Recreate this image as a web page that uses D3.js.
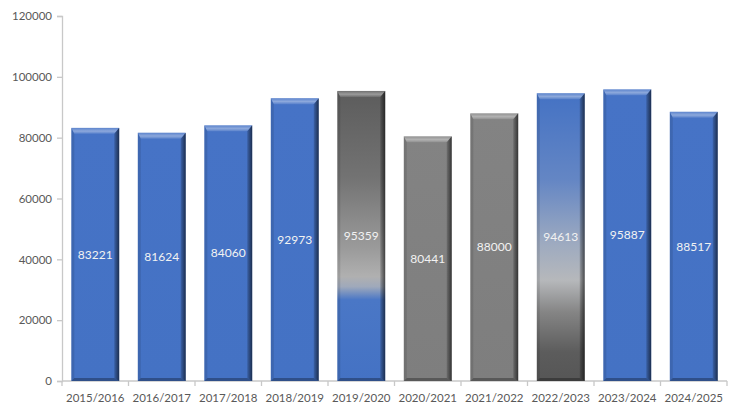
<!DOCTYPE html>
<html>
<head>
<meta charset="utf-8">
<script src="https://cdn.jsdelivr.net/npm/d3@7"></script>
<style>
  body { margin: 0; background: #fff; }
  svg { display: block; }
  text { font-family: Lato, "Liberation Sans", sans-serif; }
</style>
</head>
<body>
<svg id="chart" width="742" height="416"></svg>
<script>
// data
const seasons = ["2015/2016", "2016/2017", "2017/2018", "2018/2019", "2019/2020",
                 "2020/2021", "2021/2022", "2022/2023", "2023/2024", "2024/2025"];
const students = [83221, 81624, 84060, 92973, 95359, 80441, 88000, 94613, 95887, 88517];
const yTicks = [0, 20000, 40000, 60000, 80000, 100000, 120000];

// which fill each bar uses (style, kept apart from the values)
const fillKind = ["blue", "blue", "blue", "blue", "grayToBlue",
                  "gray", "gray", "blueToGray", "blue", "blue"];

const width = 742, height = 416;
const margin = { top: 16, right: 15, bottom: 35, left: 62 };

const svg = d3.select("#chart");
const defs = svg.append("defs");

// vertical gradients, stops in bar-relative units
const gradients = {
  blue: [[0, "#4673c6"], [1, "#4472c4"]],
  gray: [[0, "#838383"], [1, "#7e7e7e"]],
  grayToBlue: [[0, "#5c5c5c"], [0.3, "#737373"], [0.55, "#9c9c9c"], [0.64, "#b0b0b0"],
               [0.675, "#9fa9bb"], [0.72, "#4a77c6"], [1, "#4472c4"]],
  blueToGray: [[0, "#4472c4"], [0.3, "#6486c4"], [0.52, "#9daac0"], [0.65, "#b6b8bb"],
               [0.76, "#858585"], [0.9, "#5c5c5c"], [1, "#565656"]]
};
Object.entries(gradients).forEach(([id, stops]) => {
  const g = defs.append("linearGradient").attr("id", "g-" + id)
    .attr("x1", 0).attr("y1", 0).attr("x2", 0).attr("y2", 1);
  stops.forEach(s => g.append("stop").attr("offset", s[0]).attr("stop-color", s[1]));
});

// bevel shading
const topBevel = defs.append("linearGradient").attr("id", "bevel-top")
  .attr("x1", 0).attr("y1", 0).attr("x2", 0).attr("y2", 1);
topBevel.append("stop").attr("offset", 0).attr("stop-color", "#fff").attr("stop-opacity", 0.12);
topBevel.append("stop").attr("offset", 0.55).attr("stop-color", "#fff").attr("stop-opacity", 0.38);
topBevel.append("stop").attr("offset", 1).attr("stop-color", "#fff").attr("stop-opacity", 0.1);

const rightBevel = defs.append("linearGradient").attr("id", "bevel-right")
  .attr("x1", 0).attr("y1", 0).attr("x2", 1).attr("y2", 0);
rightBevel.append("stop").attr("offset", 0).attr("stop-color", "#000").attr("stop-opacity", 0.15);
rightBevel.append("stop").attr("offset", 1).attr("stop-color", "#000").attr("stop-opacity", 0.6);

const x = d3.scaleBand()
  .domain(seasons)
  .range([margin.left, width - margin.right])
  .paddingInner(0.28)
  .paddingOuter(0.14);

const y = d3.scaleLinear()
  .domain([0, 120000])
  .range([height - margin.bottom, margin.top]);

// axes
const yAxis = svg.append("g")
  .attr("transform", `translate(${margin.left},0)`)
  .call(d3.axisLeft(y).tickValues(yTicks).tickSize(5).tickPadding(5).tickFormat(d3.format("d")));
yAxis.select(".domain").attr("stroke", "#c8c8c8").attr("stroke-width", 1.3);
yAxis.selectAll(".tick line").attr("stroke", "#c8c8c8").attr("stroke-width", 1.3);
yAxis.selectAll("text").attr("fill", "#595959").style("font-size", "11.5px");

const step = x.step();
const xEdges = d3.range(seasons.length + 1).map(i => margin.left + i * step);
const xAxis = svg.append("g");
xAxis.append("line")
  .attr("x1", margin.left).attr("x2", width - margin.right)
  .attr("y1", y(0)).attr("y2", y(0))
  .attr("stroke", "#c8c8c8").attr("stroke-width", 1.3);
xAxis.selectAll("line.tick").data(xEdges).enter().append("line")
  .attr("class", "tick")
  .attr("x1", d => d).attr("x2", d => d)
  .attr("y1", y(0)).attr("y2", y(0) + 5)
  .attr("stroke", "#c8c8c8").attr("stroke-width", 1.3);
xAxis.selectAll("text").data(seasons).enter().append("text")
  .attr("x", d => x(d) + x.bandwidth() / 2)
  .attr("y", y(0) + 21)
  .attr("text-anchor", "middle")
  .attr("fill", "#595959")
  .style("font-size", "11.5px")
  .text(d => d);

// bars
const b = 6, bb = 3;
const bars = svg.append("g").selectAll("g.bar")
  .data(seasons.map((s, i) => ({ s, v: students[i], kind: fillKind[i] })))
  .enter().append("g").attr("class", "bar");

bars.each(function(d) {
  const g = d3.select(this);
  const x0 = x(d.s), w = x.bandwidth();
  const y0 = y(d.v), y1 = y(0);
  g.append("rect")
    .attr("x", x0).attr("y", y0).attr("width", w).attr("height", y1 - y0)
    .attr("fill", `url(#g-${d.kind})`);
  // left
  g.append("polygon")
    .attr("points", [[x0, y0], [x0 + 3, y0 + b], [x0 + 3, y1 - bb], [x0, y1]].join(" "))
    .attr("fill", "#000").attr("fill-opacity", 0.1);
  // right
  g.append("polygon")
    .attr("points", [[x0 + w, y0], [x0 + w, y1], [x0 + w - 5, y1 - bb], [x0 + w - 5, y0 + b]].join(" "))
    .attr("fill", "url(#bevel-right)");
  // bottom
  g.append("polygon")
    .attr("points", [[x0, y1], [x0 + 3, y1 - bb], [x0 + w - 5, y1 - bb], [x0 + w, y1]].join(" "))
    .attr("fill", "#000").attr("fill-opacity", 0.3);
  // top
  g.append("polygon")
    .attr("points", [[x0, y0], [x0 + w, y0], [x0 + w - 5, y0 + b], [x0 + 3, y0 + b]].join(" "))
    .attr("fill", "url(#bevel-top)");
  // value label
  g.append("text")
    .attr("x", x0 + w / 2)
    .attr("y", y(d.v / 2))
    .attr("dy", "0.35em")
    .attr("text-anchor", "middle")
    .attr("fill", "#f2f2f2")
    .style("font-size", "12px")
    .text(d.v);
});
</script>
</body>
</html>
